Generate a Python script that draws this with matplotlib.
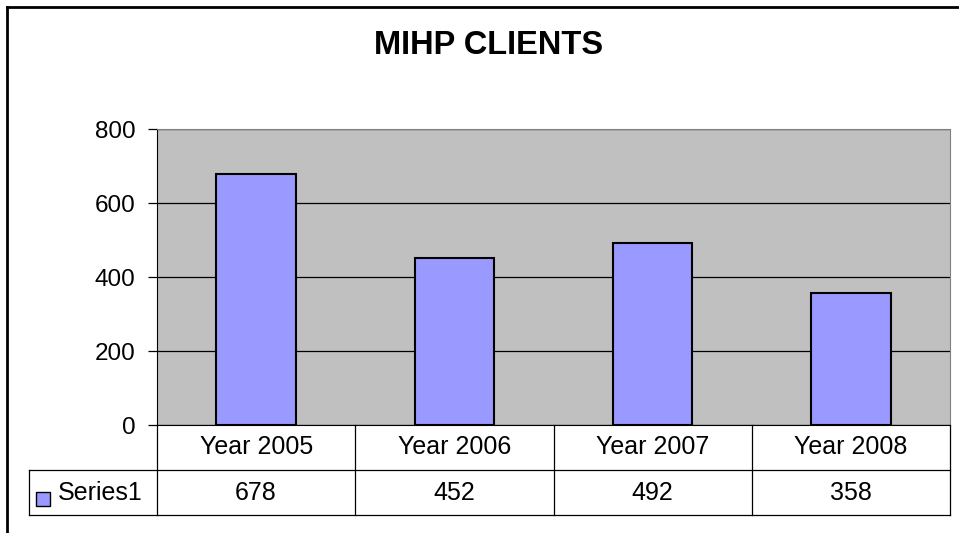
import matplotlib
matplotlib.use('Agg')
import matplotlib.pyplot as plt
from matplotlib.lines import Line2D
from matplotlib.patches import Rectangle

plt.rcParams['font.family'] = ['Liberation Sans', 'DejaVu Sans']

## DATOS
categories = ['Year 2005', 'Year 2006', 'Year 2007', 'Year 2008']
values = [678, 452, 492, 358]
series_name = 'Series1'
yticks = [0, 200, 400, 600, 800]
title = 'MIHP CLIENTS'

W, H = 959, 533
bar_color = '#9999FF'
plot_bg = '#C0C0C0'

def fx(px):
    return px / W

def fy(py):
    return 1 - py / H

fig = plt.figure(figsize=(W / 100, H / 100), dpi=100)

## MARCO EXTERIOR (solo arriba e izquierda visibles)
fig.add_artist(Line2D([fx(7), fx(959)], [fy(7), fy(7)], color='black', lw=2))
fig.add_artist(Line2D([fx(7), fx(7)], [fy(7), fy(533)], color='black', lw=2))

## TITULO
fig.text(fx(489), fy(46), title, ha='center', va='center',
         fontsize=23.5, fontweight='bold')

## AREA DEL GRAFICO
left, right, top, bottom = 157, 950, 129, 425
ax = fig.add_axes([fx(left), fy(bottom), fx(right - left), (bottom - top) / H])
ax.set_facecolor(plot_bg)
x = range(len(categories))
ax.bar(x, values, width=0.4, color=bar_color, edgecolor='black', linewidth=1.5, zorder=3)
ax.set_xlim(-0.5, len(categories) - 0.5)
ax.set_ylim(0, 800)
ax.set_yticks(yticks)
ax.set_yticklabels([str(t) for t in yticks], fontsize=17.5)
ax.set_xticks([])
ax.yaxis.grid(True, color='black', linewidth=0.9, zorder=1)
ax.set_axisbelow(True)
ax.tick_params(axis='y', direction='out', length=6.5, width=0.9, pad=9)
for s in ['top', 'right']:
    ax.spines[s].set_color('#808080')
ax.spines['left'].set_color('black')
ax.spines['bottom'].set_color('black')

## TABLA DE DATOS
row1_bot, row2_bot = 470, 515
col_w = (right - left) / len(categories)
lc = 'black'
lw = 0.9
# horizontales
fig.add_artist(Line2D([fx(29), fx(right)], [fy(row1_bot), fy(row1_bot)], color=lc, lw=lw))
fig.add_artist(Line2D([fx(29), fx(right)], [fy(row2_bot), fy(row2_bot)], color=lc, lw=lw))
# verticales
fig.add_artist(Line2D([fx(29), fx(29)], [fy(row1_bot), fy(row2_bot)], color=lc, lw=lw))
for i in range(len(categories) + 1):
    xc = left + i * col_w
    fig.add_artist(Line2D([fx(xc), fx(xc)], [fy(bottom), fy(row2_bot)], color=lc, lw=lw))

for i, (cat, v) in enumerate(zip(categories, values)):
    xc = left + (i + 0.5) * col_w
    fig.text(fx(xc), fy((bottom + row1_bot) / 2), cat, ha='center', va='center', fontsize=18)
    fig.text(fx(xc), fy((row1_bot + row2_bot) / 2), str(v), ha='center', va='center', fontsize=18)

# leyenda dentro de la tabla
fig.add_artist(Rectangle((fx(36), fy(506)), fx(14), 14 / H, facecolor=bar_color,
                         edgecolor='black', lw=1))
fig.text(fx(58), fy((row1_bot + row2_bot) / 2), series_name, ha='left', va='center', fontsize=18)

plt.savefig('out.png', dpi=100)
